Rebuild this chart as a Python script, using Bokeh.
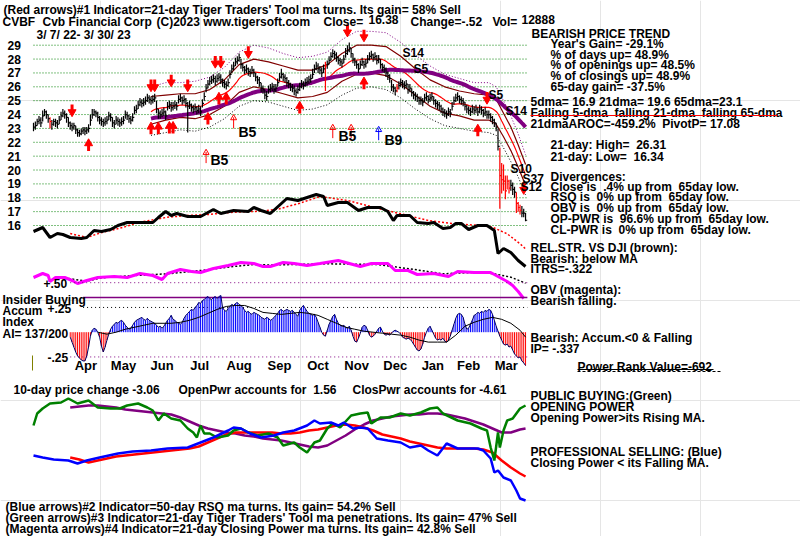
import numpy as np
import pandas as pd
from bokeh.plotting import figure
from bokeh.models import Range1d, ColumnDataSource
from bokeh.embed import file_html
from bokeh.resources import INLINE
from bokeh.core.properties import value

# ------------------------------------------------------------------ data
holidays = ["2022-04-15", "2022-05-30", "2022-06-20", "2022-07-04", "2022-09-05",
            "2022-11-24", "2022-12-26", "2023-01-02", "2023-01-16", "2023-02-20"]
dates = pd.bdate_range("2022-03-07", "2023-03-30")
dates = dates[~dates.isin(pd.to_datetime(holidays))]

close = [
    23.1, 23.2, 23.5, 23.6, 23.4, 23.9, 24.2, 24.0, 23.7, 23.5,
    23.3, 23.5, 23.4, 23.3, 23.6, 23.9, 24.1, 24.0, 23.8, 23.4,
    23.2, 23.1, 23.2, 22.9, 22.7, 22.6, 22.8, 22.9, 22.8, 22.9,
    23.0, 23.6, 24.0, 24.2, 24.1, 23.8, 23.6, 23.5, 23.4, 23.5,
    23.6, 23.9, 23.8, 23.4, 23.3, 23.6, 23.5, 23.4, 23.5, 23.6,
    24.0, 23.9, 23.7, 23.6, 23.8, 24.3, 24.4, 24.7, 24.9, 24.8,
    24.9, 25.0, 25.2, 25.1, 25.0, 25.1, 25.2, 24.4, 24.1, 24.0,
    24.1, 24.2, 23.9, 24.6, 24.7, 24.5, 24.6, 24.7, 24.6, 25.1,
    25.2, 25.0, 25.1, 24.8, 24.6, 24.7, 24.5, 24.4, 24.5, 24.3,
    24.4, 24.2, 24.8, 25.3, 25.9, 26.2, 26.4, 26.5, 26.6, 26.4,
    26.6, 26.7, 26.5, 26.3, 26.2, 26.1, 26.3, 26.9, 27.3, 27.5,
    27.8, 27.9, 28.1, 27.6, 27.4, 27.2, 27.3, 27.1, 27.0, 27.2,
    27.0, 26.7, 26.5, 26.3, 25.9, 25.8, 25.4, 25.3, 25.8, 25.9,
    26.0, 25.8, 25.9, 26.3, 26.7, 26.9, 26.7, 26.6, 26.3, 26.2,
    26.0, 25.9, 25.7, 25.6, 25.8, 26.0, 26.2, 26.1, 26.3, 26.4,
    26.5, 26.6, 26.9, 27.3, 27.5, 27.3, 27.2, 27.0, 27.3, 27.5,
    27.6, 27.9, 28.2, 28.4, 28.3, 28.1, 27.9, 27.8, 27.7, 28.0,
    28.4, 28.6, 28.8, 28.4, 28.0, 27.8, 27.6, 27.3, 27.6, 27.8,
    27.6, 27.7, 28.0, 28.2, 28.3, 28.1, 28.2, 27.9, 28.0, 27.6,
    27.4, 27.3, 27.0, 26.8, 26.6, 26.0, 25.9, 25.7, 25.9, 26.1,
    26.3, 26.2, 26.1, 26.2, 25.8, 25.9, 25.6, 25.4, 25.3, 25.2,
    25.0, 25.0, 24.9, 25.2, 25.3, 25.1, 25.2, 25.3, 25.0, 24.8,
    24.7, 24.6, 24.4, 24.2, 24.1, 24.0, 24.2, 24.1, 24.6, 25.0,
    25.2, 25.3, 25.1, 25.0, 24.9, 24.6, 24.4, 24.3, 24.2, 24.4,
    24.3, 24.4, 24.2, 24.4, 24.3, 24.1, 24.2, 24.0, 24.0, 23.8,
    23.6, 23.4, 23.1, 21.7, 19.6, 19.3, 19.2, 18.5, 19.2, 18.7,
    18.9, 18.6, 18.4, 17.6, 17.3, 17.1, 16.9, 16.9, 16.38]

high = [
    23.4, 23.5, 23.7, 23.9, 23.8, 24.3, 24.4, 24.3, 24.0, 23.8,
    23.6, 23.7, 23.7, 23.6, 23.9, 24.2, 24.4, 24.3, 24.1, 23.8,
    23.5, 23.4, 23.4, 23.2, 23.0, 22.9, 23.0, 23.1, 23.1, 23.1,
    23.3, 24.0, 24.4, 24.4, 24.3, 24.2, 23.9, 23.8, 23.7, 23.8,
    23.9, 24.2, 24.1, 23.8, 23.6, 23.9, 23.8, 23.7, 23.8, 23.9,
    24.3, 24.2, 24.0, 23.9, 24.1, 24.6, 24.7, 25.0, 25.2, 25.1,
    25.2, 25.3, 25.5, 25.4, 25.3, 25.4, 25.5, 25.0, 24.4, 24.3,
    24.4, 24.5, 24.3, 24.9, 25.0, 24.9, 24.9, 25.0, 24.9, 25.4,
    25.5, 25.3, 25.4, 25.2, 24.9, 25.0, 24.8, 24.7, 24.8, 24.6,
    24.7, 24.6, 25.1, 25.6, 26.2, 26.5, 26.7, 26.8, 26.9, 26.8,
    26.9, 27.0, 26.9, 26.6, 26.5, 26.4, 26.6, 27.2, 27.6, 27.8,
    28.1, 28.2, 28.4, 28.0, 27.7, 27.5, 27.6, 27.4, 27.3, 27.5,
    27.3, 27.0, 26.8, 26.7, 26.3, 26.1, 25.8, 25.7, 26.1, 26.2,
    26.3, 26.2, 26.2, 26.6, 27.0, 27.3, 27.0, 26.9, 26.7, 26.5,
    26.3, 26.2, 26.1, 25.9, 26.1, 26.3, 26.5, 26.4, 26.6, 26.7,
    26.8, 26.9, 27.3, 27.6, 27.8, 27.7, 27.5, 27.4, 27.6, 27.8,
    27.9, 28.2, 28.5, 28.7, 28.6, 28.5, 28.2, 28.1, 28.0, 28.3,
    28.8, 29.0, 29.2, 28.8, 28.4, 28.1, 27.9, 27.7, 27.9, 28.1,
    27.9, 28.0, 28.3, 28.5, 28.6, 28.4, 28.5, 28.3, 28.3, 28.0,
    27.7, 27.6, 27.4, 27.1, 26.9, 26.5, 26.2, 26.0, 26.2, 26.4,
    26.6, 26.5, 26.4, 26.5, 26.2, 26.2, 25.9, 25.7, 25.6, 25.5,
    25.3, 25.3, 25.2, 25.5, 25.6, 25.4, 25.5, 25.6, 25.3, 25.1,
    25.0, 24.9, 24.7, 24.5, 24.4, 24.3, 24.5, 24.4, 24.9, 25.3,
    25.5, 25.6, 25.4, 25.3, 25.2, 24.9, 24.7, 24.6, 24.5, 24.7,
    24.6, 24.7, 24.5, 24.7, 24.6, 24.4, 24.5, 24.3, 24.3, 24.1,
    23.9, 23.7, 23.4, 23.0, 21.6, 20.5, 20.4, 19.6, 19.6, 19.3,
    19.3, 19.1, 18.8, 18.4, 17.7, 17.5, 17.4, 17.2, 16.9]

low = [
    22.8, 22.9, 23.2, 23.3, 23.1, 23.5, 23.9, 23.7, 23.4, 23.0,
    22.9, 23.2, 23.1, 23.0, 23.3, 23.6, 23.8, 23.7, 23.4, 23.1,
    22.9, 22.8, 22.9, 22.6, 22.4, 22.4, 22.5, 22.6, 22.5, 22.6,
    22.7, 23.2, 23.7, 23.9, 23.8, 23.5, 23.3, 23.2, 23.1, 23.2,
    23.3, 23.6, 23.5, 23.1, 23.0, 23.3, 23.2, 23.1, 23.2, 23.3,
    23.7, 23.6, 23.4, 23.3, 23.5, 24.0, 24.1, 24.4, 24.6, 24.5,
    24.6, 24.7, 24.9, 24.8, 24.7, 24.8, 24.9, 24.1, 23.7, 23.7,
    23.8, 23.9, 23.6, 24.3, 24.4, 24.2, 24.3, 24.4, 24.3, 24.8,
    24.9, 24.7, 24.8, 24.5, 22.7, 24.4, 24.2, 24.1, 24.2, 24.0,
    24.1, 23.9, 24.5, 25.0, 25.6, 25.9, 26.1, 26.2, 26.3, 26.1,
    26.3, 26.4, 26.2, 26.0, 25.9, 25.8, 26.0, 26.6, 27.0, 27.2,
    27.5, 27.6, 27.8, 27.3, 27.1, 26.9, 27.0, 26.8, 26.7, 26.9,
    26.7, 26.4, 26.2, 26.0, 25.6, 25.5, 25.1, 25.0, 25.5, 25.6,
    25.7, 25.5, 25.6, 26.0, 26.4, 26.6, 26.4, 26.3, 26.0, 25.9,
    25.7, 25.6, 25.4, 25.3, 25.5, 25.7, 25.9, 25.8, 26.0, 26.1,
    26.2, 26.3, 26.6, 27.0, 27.2, 27.0, 26.9, 26.7, 27.0, 25.7,
    27.3, 27.6, 27.9, 28.1, 28.0, 27.8, 27.6, 27.5, 27.4, 27.7,
    28.1, 28.3, 28.5, 28.1, 27.7, 27.5, 27.3, 27.0, 27.3, 27.5,
    27.3, 27.4, 27.7, 27.9, 28.0, 27.8, 27.9, 27.6, 27.7, 27.3,
    27.1, 27.0, 26.7, 26.5, 26.3, 25.7, 25.6, 25.4, 25.6, 25.8,
    26.0, 25.9, 25.8, 25.9, 25.5, 25.6, 25.3, 25.1, 25.0, 24.9,
    24.7, 24.7, 24.6, 24.9, 25.0, 24.8, 24.9, 25.0, 24.7, 24.5,
    24.4, 24.3, 24.1, 23.9, 23.8, 23.7, 23.9, 23.8, 24.3, 24.7,
    24.9, 25.0, 24.8, 24.7, 24.6, 24.3, 24.1, 24.0, 23.9, 24.1,
    24.0, 24.1, 23.9, 24.1, 24.0, 23.8, 23.9, 23.7, 23.7, 23.5,
    23.3, 23.1, 22.8, 21.4, 17.2, 18.3, 18.5, 17.9, 18.6, 18.3,
    18.5, 18.2, 18.0, 16.9, 17.0, 16.8, 16.6, 16.6, 16.3]

red_bar_days = [9, 159, 198, 254, 255, 256, 257, 258, 259, 263, 264, 265]

band_day = [64, 72, 80, 88, 96, 104, 112, 120, 128, 136, 144, 152, 160, 168, 176,
            184, 192, 200, 208, 216, 224, 232, 240, 248, 252, 256, 260, 264, 268]
band_up_in = [25.3, 25.4, 25.5, 25.5, 25.8, 26.5, 27.6, 28.0, 27.8, 27.5, 27.2, 27.2, 27.6, 28.4, 29.0,
              29.0, 28.9, 28.2, 27.3, 26.5, 26.0, 25.7, 25.5, 25.4, 25.1, 24.1, 23.1, 21.8, 20.4]
band_dn_in = [23.3, 23.6, 23.8, 23.7, 24.0, 24.6, 25.6, 26.0, 25.8, 25.5, 25.2, 25.3, 25.6, 26.4, 26.9,
              27.0, 26.8, 26.2, 25.4, 24.6, 24.1, 23.9, 23.6, 23.6, 23.3, 22.4, 21.4, 20.2, 18.9]
band_up_out = [26.0, 26.3, 26.3, 26.4, 26.7, 27.4, 28.5, 29.0, 28.8, 28.4, 28.1, 28.2, 28.5, 29.4, 30.0,
               30.0, 29.9, 29.2, 28.3, 27.5, 26.9, 26.6, 26.3, 26.3, 26.0, 25.0, 23.9, 22.6, 21.1]
band_dn_out = [22.5, 22.7, 22.9, 22.8, 23.1, 23.7, 24.6, 25.0, 24.9, 24.6, 24.3, 24.4, 24.7, 25.4, 25.9,
               26.0, 25.8, 25.2, 24.4, 23.7, 23.2, 23.0, 22.8, 22.7, 22.5, 21.6, 20.6, 19.5, 18.2]

# relative strength vs DJI (read at turning points)
rs_day = [0, 5, 9, 13, 16, 20, 26, 29, 33, 37, 42, 46, 51, 58, 65, 68, 72, 75, 78, 84,
          91, 95, 98, 102, 109, 117, 120, 124, 129, 135, 138, 144, 149, 154, 158, 160, 166,
          171, 177, 182, 189, 193, 196, 198, 205, 209, 215, 218, 223, 227, 230, 233, 237,
          242, 247, 251, 253, 256, 260, 264, 268]
rs_val = [39, 43, 33, 37, 36, 33, 32, 33, 40, 39, 41, 45, 48, 48, 48, 53, 59, 55, 57, 54,
          54, 58, 61, 57, 60, 59, 63, 60, 57, 67, 72, 70, 73, 76, 74, 65, 68,
          68, 60, 63, 63, 59, 50, 55, 55, 48, 47, 48, 42, 43, 47, 47, 41,
          45, 45, 40, 17, 22, 18, 10, 4]
rs_ma_day = [20, 29, 36, 49, 58, 73, 84, 95, 109, 124, 134, 145, 156, 171, 185, 200, 215,
             229, 243, 250, 258, 265, 268]
rs_ma = [37, 33, 37.3, 43.3, 48.3, 53.3, 55, 56, 58.3, 59.3, 61.7, 67.3, 74, 70, 63.3, 56.7,
         50, 46.7, 45, 43.3, 36.7, 26.7, 21.7]

# on-balance volume (read at turning points)
obv_day = [0, 5, 8, 9, 12, 17, 21, 24, 29, 35, 44, 51, 58, 65, 70, 73, 80, 86, 91, 98,
           106, 113, 120, 125, 129, 136, 142, 149, 156, 166, 174, 178, 184, 193, 197, 204,
           209, 218, 226, 231, 240, 249, 253, 258, 261, 264, 267]
obv_val = [23, 27, 25, 19, 23, 23, 20, 17, 20, 23, 24, 23, 27, 25, 21, 27, 31, 29, 28, 32,
           35, 38, 37, 34, 34, 38, 37, 35, 37, 40, 36, 34, 37, 37, 30, 30,
           26, 27, 24, 29, 28, 28, 24, 19, 15, 9, 2]
obv_ma_day = [19, 29, 37, 55, 73, 91, 109, 120, 129, 160, 187, 205, 223, 242, 251, 260, 268]
obv_ma = [22, 19.3, 22.7, 25, 26.7, 30, 34, 36, 35.5, 36.7, 36, 31.7, 26.7, 28.3, 26.7, 23.3, 17.3]

acc_start = 20
accum = [
    -0.05, -0.10, -0.15, -0.20, -0.24, -0.26, -0.28, -0.29, -0.29, -0.24, -0.15, -0.04,
    0.02, 0.04, 0.03, 0.0, -0.05,
    -0.14, -0.20, -0.15, -0.08, -0.02,
    0.03, 0.06, 0.08, 0.10, 0.09, 0.11, 0.12, 0.10, 0.07, 0.05,
    0.03, 0.04, 0.07,
    0.10, 0.12, 0.13, 0.14, 0.15, 0.13, 0.12, 0.14,
    0.12, 0.11, 0.10, 0.09, 0.07,
    0.05, 0.06, 0.04, 0.06, 0.09,
    0.12, 0.14, 0.17, 0.13, 0.12, 0.10, 0.09, 0.08,
    0.10, 0.14, 0.17, 0.19, 0.21,
    0.23, 0.22, 0.25, 0.27, 0.30, 0.29, 0.32, 0.33, 0.35,
    0.36, 0.34, 0.33, 0.35, 0.36, 0.34, 0.36, 0.37,
    0.25, 0.22, 0.21, 0.24, 0.26, 0.28, 0.27,
    0.29, 0.30, 0.28, 0.27, 0.25,
    0.22, 0.20, 0.21, 0.19, 0.18, 0.20, 0.19, 0.18, 0.17, 0.15,
    0.14, 0.13, 0.15, 0.14, 0.12, 0.13, 0.15, 0.17, 0.19,
    0.22, 0.23, 0.21, 0.22, 0.23, 0.22, 0.21, 0.22, 0.20, 0.18, 0.16,
    0.22, 0.25, 0.27, 0.24, 0.21,
    0.19, 0.18, 0.17, 0.18, 0.15, 0.10,
    0.05, 0.0, -0.03, -0.04, 0.02,
    0.08, 0.12, 0.16, 0.18, 0.13, 0.09,
    0.07, 0.06, 0.07, 0.05, 0.04, 0.06, 0.02,
    -0.04, -0.09, -0.10, -0.06, -0.01,
    0.05, 0.07, 0.06, 0.02,
    -0.03, -0.05, -0.04, -0.02, 0.01,
    0.04, 0.05,
    0.01, -0.02, -0.03, -0.02, -0.03, -0.01, 0.01,
    0.02, 0.01, 0.0, -0.02,
    -0.05, -0.06, -0.07, -0.06, -0.07, -0.09, -0.12,
    -0.15, -0.18, -0.19, -0.17, -0.12, -0.05, 0.0,
    0.04, 0.06, 0.02, -0.02,
    -0.06, -0.08, -0.07, -0.08, -0.06, -0.09, -0.10,
    -0.08, -0.04, 0.02, 0.08,
    0.14, 0.18, 0.19, 0.18, 0.15, 0.08, 0.03,
    0.04, 0.08, 0.12, 0.17, 0.18,
    0.20, 0.19, 0.21, 0.20, 0.22, 0.21, 0.23, 0.22, 0.18, 0.12,
    0.06, 0.01, -0.04,
    -0.08, -0.12, -0.13, -0.12, -0.15, -0.14, -0.18,
    -0.22, -0.24, -0.26, -0.25, -0.29, -0.31, -0.337]
acc_ma_day = list(range(35, 266, 5)) + [268]
acc_ma = [0.0, -0.02, 0.0, 0.03, 0.05, 0.07, 0.09, 0.09, 0.09, 0.10,
          0.12, 0.15, 0.19, 0.23, 0.26, 0.27, 0.27, 0.24, 0.20, 0.19,
          0.18, 0.19, 0.20, 0.19, 0.17, 0.13, 0.09, 0.05, 0.03, 0.01,
          0.0, -0.01, -0.02, -0.03, -0.05, -0.08, -0.10, -0.10, -0.10, -0.03,
          0.06, 0.10, 0.13, 0.15, 0.13, 0.09, 0.02, -0.05]

# opening power (green) and closing power (blue), read at turning points
op_day = [0, 2, 5, 9, 15, 19, 24, 30, 35, 42, 47, 51, 57, 62, 65, 68, 71, 75, 80, 84,
          87, 89, 91, 93, 96, 100, 106, 109, 113, 117, 122, 128, 133, 136, 142, 145, 149,
          153, 156, 160, 163, 167, 173, 178, 182, 184, 189, 194, 200, 205, 211, 216, 220,
          223, 231, 238, 244, 247, 249, 251, 253, 254, 256, 258, 261, 263, 265, 268]
op_val = [75, 87, 92, 97, 98, 102, 97, 100, 93, 92, 92, 95, 97, 93, 90, 80, 87, 82, 80, 72,
          68, 63, 75, 67, 67, 63, 65, 70, 72, 68, 65, 67, 63, 55, 58, 53, 48,
          58, 60, 72, 77, 73, 85, 87, 88, 77, 83, 83, 87, 85, 88, 92, 93,
          87, 80, 77, 72, 70, 53, 40, 68, 53, 70, 80, 82, 87, 92, 95]
cp_day = [0, 5, 11, 19, 24, 29, 36, 46, 54, 64, 73, 84, 91, 98, 106, 109, 113, 118, 124,
          131, 136, 142, 149, 153, 156, 162, 166, 169, 174, 178, 182, 187, 193, 200, 205,
          211, 215, 220, 225, 231, 236, 242, 245, 249, 251, 253, 256, 260, 263, 265, 268]
cp_val = [45, 43, 41, 40, 37, 40, 43, 47, 49, 50, 52, 53, 58, 63, 70, 73, 72, 67, 63,
          65, 68, 70, 75, 80, 77, 78, 75, 78, 72, 73, 72, 62, 60, 58, 53,
          55, 50, 45, 57, 52, 52, 52, 50, 42, 28, 30, 23, 20, 10, 2, 0]
pwr_ma_day = list(range(20, 266, 5)) + [268]
open_pwr_ma = [93, 94, 95, 95, 94, 93, 91, 90, 89, 88, 87, 86, 83, 79, 75, 72, 70, 68, 67, 65,
               64, 62, 61, 60, 58, 56, 54, 53, 55, 60, 65, 71, 76, 80, 82, 84, 85, 86, 86, 87,
               87, 86, 84, 82, 79, 76, 72, 68, 68, 71, 72]
close_pwr_ma = [43, 41, 38, 40, 42, 44, 45, 46, 47, 48, 49, 50, 51, 52, 54, 58, 62, 66, 68, 68,
                68, 68, 68, 67, 67, 68, 70, 71, 73, 75, 76, 75, 73, 70, 66, 64, 62, 59, 57, 55,
                53, 52, 52, 52, 52, 51, 48, 40, 33, 27, 24]

# signal arrows (day, price)
dn_arrow_day = [21, 64, 66, 75, 84, 99, 102, 117, 171, 180, 247, 267]
dn_arrow_px = [24.3, 26.1, 26.1, 26.45, 26.1, 27.8, 27.8, 28.5, 30.05, 29.7, 25.2, 18.7]
up_arrow_day = [30, 64, 68, 74, 76, 95, 101, 105, 145, 180, 242]
up_arrow_px = [21.8, 23.0, 23.0, 23.05, 23.05, 23.7, 25.15, 25.15, 24.5, 26.25, 22.85]
thin_up_day = [94, 109, 163, 173]
thin_up_px = [21.2, 23.7, 23.0, 23.0]
blue_up_day = [188]
blue_up_px = [22.85]

price_ticks = list(range(16, 30))
month_names = ["Apr", "May", "Jun", "Jul", "Aug", "Sep", "Oct", "Nov", "Dec", "Jan", "Feb", "Mar"]

# ------------------------------------------------------------------ figure
X0, DX = 33.0, 1.836            # pixel of first day, pixels per day
P29, PPD = 44.7, 13.87          # pixel of price 29, pixels per dollar
ACC0, PPA = 331.7, 99.0         # pixel of accum 0, pixels per unit
FONT = value("Liberation Sans")

p = figure(width=800, height=536, x_range=Range1d(0, 800), y_range=Range1d(536, 0),
           x_axis_location=None, y_axis_location=None, toolbar_location=None,
           output_backend="svg", min_border=0, title=None, outline_line_color=None)
p.extra_x_ranges = {"d": Range1d(-X0 / DX, (800 - X0) / DX)}
p.extra_y_ranges = {
    "price": Range1d(29 - (536 - P29) / PPD, 29 + P29 / PPD),
    "rs": Range1d(270 - 536, 270),
    "obv": Range1d(300 - 536, 300),
    "acc": Range1d((ACC0 - 536) / PPA, ACC0 / PPA),
    "pwr": Range1d(500 - 536, 500),
}
D = dict(x_range_name="d")

n = len(close)
day = np.arange(n)
last = n

# grid lines
p.segment(x0=[0] * len(price_ticks), x1=[last] * len(price_ticks), y0=price_ticks, y1=price_ticks,
          line_color="#008000", line_width=1, line_dash="1 2", y_range_name="price", **D)

# bands & moving averages
cs = pd.Series(close)
ma21 = cs.rolling(21).mean()
ma65 = cs.rolling(65).mean()
m = day >= 64
p.line(band_day, band_up_out, line_color="#800080", line_width=1, line_dash="1 2", y_range_name="price", **D)
p.line(band_day, band_dn_out, line_color="black", line_width=1, line_dash="1 2", y_range_name="price", **D)
p.line(band_day, band_up_in, line_color="#800000", line_width=1.2, y_range_name="price", **D)
p.line(band_day, band_dn_in, line_color="#800000", line_width=1.2, y_range_name="price", **D)
p.line(day[m], ma21[m], line_color="red", line_width=1.2, y_range_name="price", **D)
p.line(day[m], ma65[m], line_color="#800080", line_width=4, y_range_name="price", **D)

# price bars
bar_col = ["red" if i in red_bar_days else "black" for i in range(n)]
bars = ColumnDataSource(dict(x=day, x1=day + 0.9, hi=high, lo=low, c=close, col=bar_col))
p.segment(x0="x", x1="x", y0="lo", y1="hi", line_color="col", line_width=1.2, source=bars,
          y_range_name="price", **D)
p.segment(x0="x", x1="x1", y0="c", y1="c", line_color="col", line_width=1.2, source=bars,
          y_range_name="price", **D)

# arrows
AL = 0.42
p.segment(x0=dn_arrow_day, x1=dn_arrow_day, y0=[v + AL for v in dn_arrow_px], y1=dn_arrow_px,
          line_color="red", line_width=3, y_range_name="price", **D)
p.scatter(dn_arrow_day, [v - 0.12 for v in dn_arrow_px], marker="inverted_triangle", size=8,
          fill_color="red", line_color="red", y_range_name="price", **D)
p.segment(x0=up_arrow_day, x1=up_arrow_day, y0=[v - AL for v in up_arrow_px], y1=up_arrow_px,
          line_color="red", line_width=3, y_range_name="price", **D)
p.scatter(up_arrow_day, [v + 0.12 for v in up_arrow_px], marker="triangle", size=8,
          fill_color="red", line_color="red", y_range_name="price", **D)
p.segment(x0=thin_up_day, x1=thin_up_day, y0=[v - 0.7 for v in thin_up_px], y1=[v + 0.1 for v in thin_up_px],
          line_color="red", line_width=1, y_range_name="price", **D)
p.scatter(thin_up_day, [v + 0.05 for v in thin_up_px], marker="triangle", size=6,
          fill_color=None, line_color="red", y_range_name="price", **D)
p.segment(x0=blue_up_day, x1=blue_up_day, y0=[v - 0.7 for v in blue_up_px], y1=[v + 0.1 for v in blue_up_px],
          line_color="blue", line_width=1, y_range_name="price", **D)
p.scatter(blue_up_day, [v + 0.05 for v in blue_up_px], marker="triangle", size=6,
          fill_color=None, line_color="blue", y_range_name="price", **D)

# relative strength & OBV
p.line(rs_ma_day, rs_ma, line_color="red", line_width=1.5, line_dash="2 2", y_range_name="rs", **D)
p.line(rs_day, rs_val, line_color="black", line_width=3, y_range_name="rs", **D)
p.line(obv_ma_day, obv_ma, line_color="black", line_width=1.5, line_dash="2 2", y_range_name="obv", **D)
p.line(obv_day, obv_val, line_color="#ff00ff", line_width=3, y_range_name="obv", **D)

# accumulation index
acc_day = np.arange(acc_start, acc_start + len(accum))
p.segment(x0=[acc_start, acc_start, 27], x1=[last] * 3, y0=[0.5, -0.25, 0.25], y1=[0.5, -0.25, 0.25],
          line_color=["#800080", "#800080", "black"], line_width=1, line_dash="1 3",
          y_range_name="acc", **D)
p.segment(x0=[27], x1=[last], y0=[0.35], y1=[0.35], line_color="#800080", line_width=1.5,
          y_range_name="acc", **D)
acc_col = ["blue" if v >= 0 else "red" for v in accum]
p.segment(x0=acc_day, x1=acc_day, y0=[0] * len(accum), y1=accum, line_color=acc_col, line_width=1,
          y_range_name="acc", **D)
p.line(acc_day, accum, line_color="#000060", line_width=1, y_range_name="acc", **D)
p.line(acc_ma_day, acc_ma, line_color="black", line_width=1, y_range_name="acc", **D)

# opening / closing power
p.line(pwr_ma_day, open_pwr_ma, line_color="#800080", line_width=2.5, y_range_name="pwr", **D)
p.line(pwr_ma_day, close_pwr_ma, line_color="red", line_width=2.5, y_range_name="pwr", **D)
p.line(op_day, op_val, line_color="#008000", line_width=2.5, y_range_name="pwr", **D)
p.line(cp_day, cp_val, line_color="blue", line_width=2.5, y_range_name="pwr", **D)

# price axis labels
p.text(x=[7] * len(price_ticks), y=price_ticks, text=[str(t) for t in price_ticks],
       text_font=FONT, text_font_style="bold", text_font_size="12px",
       text_baseline="middle", text_align="left", y_range_name="price")

# month labels (centred on each month's trading days)
ms = pd.Series(day, index=dates[:n])
mid = ms.groupby([ms.index.year, ms.index.month]).mean().values[1:]
p.text(x=mid, y=[357] * len(mid), text=month_names, text_font=FONT,
       text_font_style="bold", text_font_size="13px", text_align="center", text_baseline="top", **D)

# ------------------------------------------------------------------ texts
T = []
def t(x, y, s, size=12, color="black"):
    T.append((x, y, s.replace("  ", " \u00a0"), size, color))

t(3, 2, "(Red arrows)#1 Indicator=21-day Tiger Traders' Tool ma turns. Its gain= 58% Sell")
t(2, 14, "CVBF")
t(42, 14, "Cvb Financial Corp")
t(156, 14, "(C)2023 www.tigersoft.com")
t(323, 14, "Close=")
t(368, 14, "16.38")
t(410, 14, "Change=-.52")
t(492, 14, "Vol=")
t(521, 14, "12888")
t(36, 27, "3/ 7/ 22- 3/ 30/ 23")

t(531, 26, "BEARISH PRICE TREND")
t(550, 36, "Year's Gain= -29.1%")
t(550, 47, "% of days up= 48.9%")
t(550, 57, "% of openings up= 48.5%")
t(550, 68, "% of closings up= 48.9%")
t(550, 79, "65-day gain= -37.5%")
t(530, 94, "5dma= 16.9 21dma= 19.6 65dma=23.1")
t(530, 105, "Falling 5-dma  falling 21-dma  falling 65-dma")
t(530, 116, "21dmaAROC=-459.2%  PivotP= 17.08")
t(550, 137, "21-day: High=  26.31")
t(550, 149, "21-day: Low=  16.34")
t(550, 169, "Divergences:")
t(550, 179, "Close is  .4% up from  65day low.")
t(550, 189, "RSQ is  0% up from  65day low.")
t(550, 200, "OBV is  0% up from  65day low.")
t(550, 211, "OP-PWR is  96.6% up from  65day low.")
t(550, 222, "CL-PWR is  0% up from  65day low.")
t(530, 240, "REL.STR. VS DJI (brown):")
t(530, 251, "Bearish: below MA")
t(530, 261, "ITRS=-.322")
t(530, 282, "OBV (magenta):")
t(530, 293, "Bearish falling.")
t(530, 330, "Bearish: Accum.<0 & Falling")
t(530, 341, "IP= -.337")
t(577, 359, "Power Rank Value=-692")
t(530, 388, "PUBLIC BUYING:(Green)")
t(530, 399, "OPENING POWER")
t(530, 410, "Opening Power>its Rising MA.")
t(530, 444, "PROFESSIONAL SELLING: (Blue)")
t(530, 455, "Closing Power < its Falling MA.")

t(2, 292, "Insider Buying")
t(2, 303, "Accum")
t(47, 303, "+.25")
t(2, 314, "Index")
t(2, 326, "AI= 137/200")
t(47, 352, "-.25")
t(43, 278, "+.50")

t(13, 382, "10-day price change -3.06")
t(178, 382, "OpenPwr accounts for  1.56")
t(352, 382, "ClosPwr accounts for -4.61")
t(5, 499, "(Blue arrows)#2 Indicator=50-day RSQ ma turns. Its gain= 54.2% Sell")
t(5, 510, "(Green arrows)#3 Indicator=21-day Tiger Traders' Tool ma penetrations. Its gain= 47% Sell")
t(5, 521, "(Magenta arrows)#4 Indicator=21-day Closing Power ma turns. Its gain= 42.8% Sell")

t(210, 151, "B5", 14)
t(238, 123, "B5", 14)
t(338, 127, "B5", 14)
t(384, 131, "B9", 14)
t(402, 45, "S14", 12)
t(413, 61, "S5", 12)
t(488, 87, "S5", 12)
t(505, 103, "S14", 12)
t(510, 161, "S10", 12)
t(522, 171, "S37", 12)
t(520, 179, "S12", 12)

src = ColumnDataSource(dict(x=[a[0] for a in T], y=[a[1] for a in T], s=[a[2] for a in T],
                            fs=["%dpx" % a[3] for a in T], c=[a[4] for a in T]))
p.text(x="x", y="y", text="s", text_font_size="fs", text_color="c", source=src,
       text_font=FONT, text_font_style="bold",
       text_align="left", text_baseline="top")

# underlines
p.segment(x0=[530, 577], x1=[777, 713], y0=[115, 369], y1=[115, 369],
          line_color=["red", "black"], line_width=1)
p.segment(x0=[577], x1=[720], y0=[371], y1=[371], line_color="black", line_width=1, line_dash="3 2")
p.segment(x0=[32], x1=[32], y0=[355], y1=[370], line_color="#808000", line_width=1)

open("out.html", "w").write(file_html(p, INLINE))
